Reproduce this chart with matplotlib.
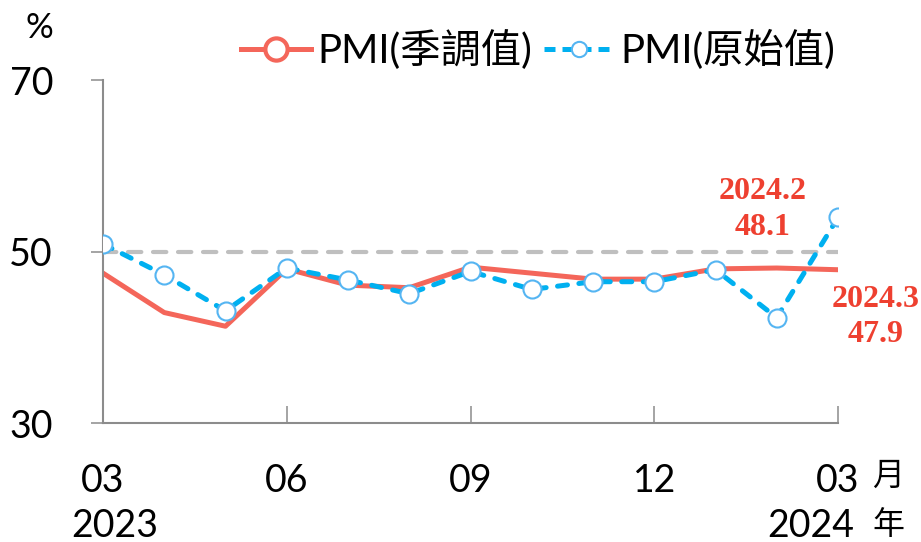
import matplotlib
matplotlib.use("Agg")
import matplotlib.pyplot as plt
from matplotlib.lines import Line2D

plt.rcParams["font.family"] = ["Lato", "Noto Sans CJK TC", "DejaVu Sans"]

# data (2023/03 .. 2024/03)
months = ["03", "04", "05", "06", "07", "08", "09", "10", "11", "12", "01", "02", "03"]
pmi_sa = [47.5, 42.9, 41.3, 48.0, 46.1, 45.8, 48.2, 47.5, 46.8, 46.8, 48.0, 48.1, 47.9]
pmi_raw = [50.9, 47.3, 43.1, 48.1, 46.7, 45.1, 47.7, 45.6, 46.5, 46.5, 47.9, 42.3, 54.0]
tick_idx = [0, 3, 6, 9, 12]
years = ["2023", "2024"]

RED = "#F4665A"
BLUE = "#00B0F0"
EDGE = "#55B5F2"
LABEL_RED = "#EE4030"
AXIS = "#8C8C8C"

W, H = 921, 542
fig = plt.figure(figsize=(W / 100, H / 100), dpi=100)
ax = fig.add_axes([103 / W, 1 - 423 / H, (838 - 103) / W, (423 - 80.5) / H])

x = list(range(len(months)))

# 50 reference line
ax.axhline(50, color="#BFBFBF", lw=3, dashes=(3.2, 2.8), dash_capstyle="round", zorder=1)

ax.plot(x, pmi_sa, color=RED, lw=3.6, zorder=2)
ax.plot(x, pmi_raw, color=BLUE, lw=3.6, dashes=(2.0, 2.3), dash_capstyle="round",
        marker="o", ms=13, mfc="white", mec=EDGE, mew=1.5, zorder=3)

ax.set_xlim(0, 12)
ax.set_ylim(30, 70)
ax.set_yticks([30, 50, 70])
ax.set_xticks(tick_idx)
ax.set_xticklabels([months[i] for i in tick_idx])

for s in ["top", "right"]:
    ax.spines[s].set_visible(False)
for s in ["left", "bottom"]:
    ax.spines[s].set_color(AXIS)
    ax.spines[s].set_linewidth(1.5)

ax.tick_params(axis="x", direction="in", length=12, width=1.1, color=AXIS,
               labelsize=27, pad=29)
ax.tick_params(axis="y", direction="out", length=9, width=1.1, color=AXIS,
               labelsize=27, pad=27)

# year labels under first / last month
ax.text(0.19, -0.30, years[0], transform=ax.get_xaxis_transform(), ha="center",
        va="center", fontsize=27)
ax.text(11.55, -0.30, years[1], transform=ax.get_xaxis_transform(), ha="center",
        va="center", fontsize=27)

fig.text(888 / W, 1 - 476 / H, "月", fontsize=23, ha="center", va="center")
fig.text(888 / W, 1 - 525 / H, "年", fontsize=23, ha="center", va="center")
fig.text(39 / W, 1 - 28 / H, "%", fontsize=25, ha="center", va="center")

# value labels for the last two months
ax.annotate(f"2024.2\n{pmi_sa[11]}", xy=(11, pmi_sa[11]), xytext=(-10, 42),
            textcoords="offset points", ha="center", va="center", color=LABEL_RED,
            fontsize=23, fontweight="bold", family="Liberation Serif", linespacing=1.3)
ax.annotate(f"2024.3\n{pmi_sa[12]}", xy=(12, pmi_sa[12]), xytext=(27, -34),
            textcoords="offset points", ha="center", va="center", color=LABEL_RED,
            fontsize=23, fontweight="bold", family="Liberation Serif", linespacing=1.3,
            annotation_clip=False)

handles = [
    Line2D([], [], color=RED, lw=3.6, marker="o", ms=16, mfc="white", mec=RED, mew=3),
    Line2D([], [], color=BLUE, lw=3.6, dashes=(2.2, 1.4), marker="o", ms=11,
           mfc="white", mec=EDGE, mew=1.5),
]
fig.legend(handles, ["PMI(季調值)", "PMI(原始值)"], loc="center",
           bbox_to_anchor=(538 / W, 1 - 50 / H), ncol=2, frameon=False,
           fontsize=29, handlelength=1.75, handletextpad=0.15, columnspacing=0.3)

fig.savefig("out.png", dpi=100)
